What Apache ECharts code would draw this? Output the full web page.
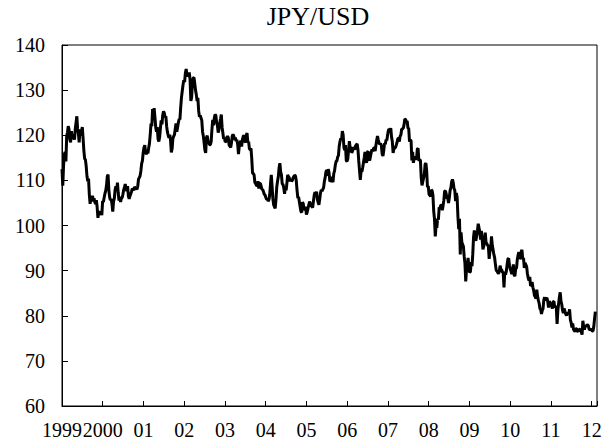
<!DOCTYPE html>
<html>
<head>
<meta charset="utf-8">
<script src="https://cdn.jsdelivr.net/npm/echarts@6/dist/echarts.min.js"></script>
<style>
  html, body { margin: 0; padding: 0; background: #fff; }
  #chart { width: 613px; height: 448px; }
</style>
</head>
<body>
<div id="chart"></div>
<script>
// Weekly JPY per USD readings, one array per year (first week starts 1 Jan 1999)
const y1999 = [112.5,108.8,113.3,115.8, 116.3,114.2,119.8,120.6, 122.0,121.3,119.1,118.4,120.9, 119.6,119.2,120.2,119.0, 121.5,122.8,124.2,121.4, 120.3,118.4,121.3,119.9,121.0, 121.8,119.3,116.6,114.8, 114.6,113.1,110.9,109.8, 110.4,106.8,104.8,106.2,105.3, 106.6,105.6,106.0,105.2, 104.8,105.6,104.1,101.7, 102.9,102.4,103.2,102.8,102.3];
const y2000 = [105.4,105.2,106.2,107.1, 107.7,108.9,110.9,111.3, 107.8,106.3,105.6,105.9,104.8, 103.1,105.3,106.0,107.9, 108.7,107.8,109.5,107.2, 105.5,106.4,105.2,106.0,106.2, 106.9,107.9,108.5,109.2, 108.2,107.6,108.7,106.5, 105.9,106.5,107.0,107.5,108.2, 108.0,107.8,108.6,108.2, 108.3,108.0,108.7,110.3, 110.6,111.0,112.1,113.7,114.4];
const y2001 = [116.2,117.3,117.8,116.3, 115.8,116.3,116.0,117.2, 118.2,120.2,122.6,122.0,125.8, 124.3,126.0,124.0,121.8, 120.8,121.8,119.2,118.6, 119.6,121.5,123.3,122.4,124.5, 125.3,124.9,124.0,124.2, 122.0,120.7,120.0,119.4, 120.1,118.9,116.2,117.0,119.3, 119.8,120.1,121.4,122.6, 120.8,121.7,122.8,123.6, 123.5,126.2,128.4,129.8,131.2];
const y2002 = [132.2,131.8,133.8,134.7, 133.4,133.1,133.5,133.9, 132.3,127.6,128.4,131.5,132.7, 132.8,131.5,130.0,129.0, 127.6,128.3,125.4,124.1, 124.4,123.8,123.3,120.8,119.8, 118.3,116.7,116.1,119.5, 119.9,118.7,118.3,117.9, 117.9,118.6,121.3,123.4,122.2, 123.8,124.6,124.4,122.8, 122.2,120.6,121.2,122.7, 123.6,124.6,121.8,120.5,119.2];
const y2003 = [119.4,118.5,118.6,119.5, 119.8,119.4,117.8,117.6, 117.3,118.3,119.8,120.2,119.8, 119.0,119.5,118.7,119.0, 117.9,115.8,117.6,118.3, 118.8,117.5,119.0,119.7,120.0, 118.6,118.5,120.0,120.5, 118.3,118.6,117.0,116.8, 117.1,114.8,111.6,111.5,111.2, 109.5,109.3,108.9,108.8, 109.8,108.2,109.3,109.3, 108.7,108.0,108.0,107.5,106.9];
const y2004 = [106.8,106.2,105.8,105.9, 105.4,105.7,106.8,109.2, 111.2,108.8,106.0,104.6,104.2, 103.8,105.8,108.5,109.8, 110.8,112.8,113.8,111.9, 111.2,109.2,109.1,108.3,107.0, 108.4,107.8,109.4,111.2, 110.8,110.6,109.8,110.3, 109.8,110.0,110.6,110.9,111.1, 111.0,109.9,107.8,106.1, 106.3,105.2,104.1,103.1, 102.9,105.2,104.8,103.5,103.6];
const y2005 = [104.2,102.4,103.0,103.8, 104.5,105.3,104.9,104.4, 104.2,104.0,105.4,106.8,107.4, 106.6,107.5,105.8,105.1, 104.6,105.8,107.2,107.9, 107.6,108.0,108.4,109.8,110.6, 111.9,112.3,111.0,112.5, 111.6,109.8,109.9,110.8, 110.0,109.6,111.5,112.1,113.4, 114.2,114.3,115.2,115.5, 117.6,118.6,119.3,119.0, 120.9,120.1,117.3,116.7,117.8];
const y2006 = [114.4,114.2,114.8,116.7, 118.7,117.2,117.4,116.1, 116.5,117.1,117.2,116.8,117.7, 117.9,118.1,116.8,114.3, 112.2,110.1,112.1,111.9, 112.8,113.9,115.0,116.3,114.5, 113.9,116.3,116.4,114.7, 114.4,115.3,116.2,116.9, 116.4,117.1,117.2,116.5,117.8, 118.9,119.8,119.0,118.3, 118.0,118.2,117.7,115.8, 115.4,116.6,118.2,118.0,119.0];
const y2007 = [118.9,120.1,121.1,121.4, 120.9,121.6,119.6,118.6, 116.1,116.9,117.2,117.3,117.8, 118.4,119.2,119.4,118.6, 119.8,120.1,121.4,121.4, 121.6,122.3,123.6,123.5,122.9, 123.2,121.6,121.5,118.6, 118.9,118.8,114.4,116.3, 113.9,115.0,115.3,114.8,114.8, 116.9,117.1,114.3,114.6, 114.4,110.6,108.9,109.7, 110.5,111.4,113.6,113.8,112.1];
const y2008 = [108.5,108.8,106.9,106.7, 106.4,107.9,107.7,106.7, 103.2,101.4,97.6,99.9,99.5, 101.5,101.3,104.0,103.8, 104.5,104.5,103.4,104.4, 105.6,107.6,107.7,107.0,106.0, 106.1,105.0,106.2,107.8, 108.4,109.7,110.2,109.5, 108.2,107.8,105.4,107.2,106.2, 102.0,99.2,101.5,93.6, 98.5,96.3,95.8,95.4, 93.2,91.6,87.6,90.2,90.7];
const y2009 = [92.8,90.6,89.6,89.8, 91.9,91.0,93.6,97.4, 98.9,97.3,96.6,97.8,98.8, 100.4,99.5,98.5,96.9, 98.8,97.1,94.7,95.3, 96.6,98.4,96.2,96.0,95.6, 95.5,92.6,94.3,94.8, 97.6,95.6,94.7,93.6, 92.9,91.4,90.1,89.9,89.6, 89.3,89.8,91.1,90.3, 90.2,89.7,89.5,86.3, 89.8,89.1,89.9,91.3,92.6];
const y2010 = [92.7,91.2,90.3,89.9, 89.2,89.9,91.4,89.0, 88.8,90.5,90.5,92.4,93.4, 94.1,92.7,92.8,94.2, 94.6,92.5,92.8,90.6, 91.7,91.3,90.9,89.3,88.4, 87.8,88.6,86.6,86.8, 87.5,86.3,85.6,84.5, 84.2,83.8,85.8,84.3,83.4, 82.8,81.6,81.4,80.4, 81.2,81.6,83.5,84.1, 83.4,83.8,84.0,83.2,81.8];
const y2011 = [83.2,82.9,82.6,82.1, 81.6,83.1,83.2,81.8, 82.1,81.8,78.2,81.2,82.8, 84.2,85.2,83.2,82.5, 81.2,80.6,81.6,81.0, 80.4,80.0,80.7,80.4,80.6, 81.4,79.1,78.5,77.4, 78.3,77.0,76.7,76.5, 77.1,77.1,76.6,76.5,77.1, 76.9,77.1,76.4,75.8, 78.9,77.6,76.9,77.7, 77.7,77.9,78.0,77.8,77.0];
const y2012 = [76.9,77.0,76.9,76.6, 76.6,77.6,79.4,80.9];

const startYear = 1999;
const weeksPerYear = 365.25 / 7;
const yTicks = [60, 70, 80, 90, 100, 110, 120, 130, 140];
const xTickLabels = ['1999','2000','01','02','03','04','05','06','07','08','09','10','11','12'];

const allValues = [].concat(y1999, y2000, y2001, y2002, y2003, y2004, y2005, y2006, y2007, y2008, y2009, y2010, y2011, y2012);
const seriesData = allValues.map((v, i) => [startYear + i / weeksPerYear, v]);

const FONT = '"Liberation Serif", "Times New Roman", serif';
const chart = echarts.init(document.getElementById('chart'), null, { renderer: 'svg' });
chart.setOption({
  animation: false,
  backgroundColor: '#fff',
  title: {
    text: 'JPY/USD',
    left: 318,
    top: 3,
    padding: 0,
    textAlign: 'center',
    textStyle: { fontFamily: FONT, fontSize: 26, fontWeight: 'normal', color: '#000' }
  },
  grid: {
    left: 62, right: 16, top: 45, bottom: 42,
    show: true, borderColor: '#000', borderWidth: 1, backgroundColor: 'transparent'
  },
  xAxis: {
    type: 'value',
    min: 1999, max: 2012.13, interval: 1,
    axisLine: { show: true, lineStyle: { color: '#000', width: 1 } },
    axisTick: { show: true, inside: true, length: 5, lineStyle: { color: '#000' } },
    splitLine: { show: false },
    axisLabel: {
      margin: 14,
      color: '#000', fontFamily: FONT, fontSize: 20,
      formatter: function (v) {
        const idx = Math.round(v - startYear);
        if (Math.abs(v - startYear - idx) > 1e-6) return '';
        return xTickLabels[idx] || '';
      }
    }
  },
  yAxis: {
    type: 'value',
    min: yTicks[0], max: yTicks[yTicks.length - 1], interval: 10,
    axisLine: { show: true, lineStyle: { color: '#000', width: 1 } },
    axisTick: { show: true, inside: true, length: 6, lineStyle: { color: '#000' } },
    splitLine: { show: false },
    axisLabel: { margin: 17, color: '#000', fontFamily: FONT, fontSize: 20 }
  },
  series: [{
    type: 'line',
    data: seriesData,
    showSymbol: false,
    symbol: 'none',
    lineStyle: { color: '#000', width: 3 },
    silent: true
  }]
});
</script>
</body>
</html>
